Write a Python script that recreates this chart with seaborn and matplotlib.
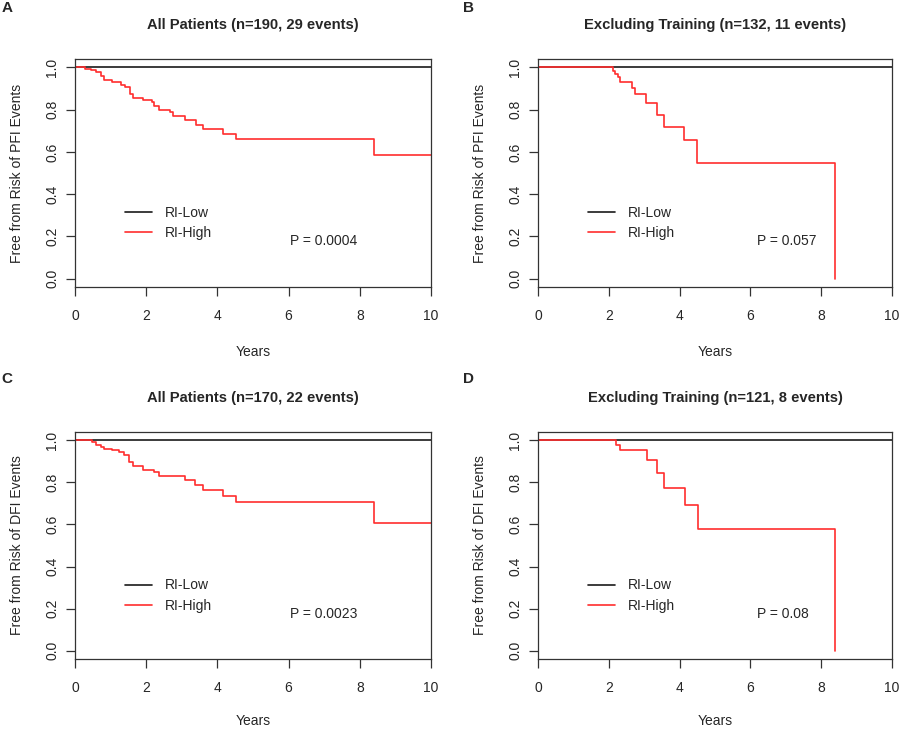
import numpy as np
import pandas as pd
import matplotlib
matplotlib.use("Agg")
import matplotlib.pyplot as plt
import seaborn as sns

# Kaplan-Meier step values (RI-High group)
a_times = [0, 0.28, 0.44, 0.58, 0.73, 0.82, 1.05, 1.29, 1.40, 1.54, 1.64, 1.90, 2.17, 2.23,
           2.37, 2.66, 2.75, 3.08, 3.39, 3.60, 4.16, 4.51, 8.40, 10]
a_surv = [1, 0.995, 0.99, 0.98, 0.96, 0.94, 0.93, 0.916, 0.908, 0.876, 0.856, 0.848, 0.837, 0.818,
          0.80, 0.79, 0.77, 0.75, 0.729, 0.71, 0.683, 0.662, 0.583, 0.583]

b_times = [0, 2.12, 2.17, 2.25, 2.33, 2.65, 2.74, 3.05, 3.35, 3.56, 4.13, 4.48, 8.40]
b_surv = [1, 0.985, 0.97, 0.955, 0.93, 0.905, 0.875, 0.83, 0.775, 0.72, 0.655, 0.547, 0.0]

c_times = [0, 0.49, 0.58, 0.73, 0.82, 1.05, 1.24, 1.38, 1.53, 1.64, 1.90, 2.23, 2.37, 3.08,
           3.36, 3.60, 4.16, 4.51, 8.40, 10]
c_surv = [1, 0.992, 0.98, 0.968, 0.957, 0.952, 0.944, 0.93, 0.897, 0.88, 0.86, 0.85, 0.833, 0.813,
          0.79, 0.762, 0.735, 0.706, 0.608, 0.608]

d_times = [0, 2.20, 2.33, 3.07, 3.37, 3.57, 4.15, 4.51, 8.40]
d_surv = [1, 0.98, 0.952, 0.905, 0.846, 0.775, 0.694, 0.579, 0.0]

# RI-Low group: no events, flat at 1 over follow-up
low_times = [0, 10]
low_surv = [1, 1]

titles = ["All Patients (n=190, 29 events)", "Excluding Training (n=132, 11 events)",
          "All Patients (n=170, 22 events)", "Excluding Training (n=121, 8 events)"]
ylabels = ["Free from Risk of PFI Events", "Free from Risk of PFI Events",
           "Free from Risk of DFI Events", "Free from Risk of DFI Events"]
pvals = ["P = 0.0004", "P = 0.057", "P = 0.0023", "P = 0.08"]
letters = ["A", "B", "C", "D"]
xticks = [0, 2, 4, 6, 8, 10]
yticks = [0.0, 0.2, 0.4, 0.6, 0.8, 1.0]

sns.set_style("ticks")
plt.rcParams['font.family'] = ['Liberation Sans', 'DejaVu Sans']

W, H = 900, 729
fig = plt.figure(figsize=(9, 7.29), dpi=100)

# axes boxes in pixels: left, top, right, bottom
boxes = [(75, 59, 431, 287), (538, 59, 892, 287),
         (75, 432, 431, 659), (538, 432, 892, 659)]
curves = [(a_times, a_surv), (b_times, b_surv), (c_times, c_surv), (d_times, d_surv)]

for i in range(4):
    l, t, r, b = boxes[i]
    ax = fig.add_axes([l / W, 1 - b / H, (r - l) / W, (b - t) / H])
    times, surv = curves[i]
    low = pd.DataFrame({'Years': low_times, 'S': low_surv})
    high = pd.DataFrame({'Years': times, 'S': surv})
    sns.lineplot(data=low, x='Years', y='S', ax=ax, color='#1a1a1a', lw=1.2,
                 drawstyle='steps-post', estimator=None, sort=False, label='RI-Low')
    sns.lineplot(data=high, x='Years', y='S', ax=ax, color='#ff2e2e', lw=1.2,
                 drawstyle='steps-post', estimator=None, sort=False, label='RI-High')
    ax.set_xlim(0, 10)
    ax.set_ylim(-0.04, 1.04)
    ax.set_xticks(xticks)
    ax.set_yticks(yticks)
    ax.set_xticklabels([str(v) for v in xticks])
    ax.set_yticklabels([f"{v:.1f}" for v in yticks], rotation=90, va='center')
    for s in ax.spines.values():
        s.set_visible(True)
        s.set_color('#333333')
        s.set_linewidth(0.9)
    ax.tick_params(direction='out', length=6.5, width=0.9, color='#333333', labelsize=10)
    ax.tick_params(axis='x', pad=9)
    ax.tick_params(axis='y', pad=5)
    ax.set_xlabel('Years', fontsize=10)
    ax.set_ylabel(ylabels[i], fontsize=10)
    ax.xaxis.set_label_coords(0.5, -0.255 if i < 2 else -0.243)
    ax.yaxis.set_label_coords(-58 / (r - l), 0.5)
    ax.yaxis.label.set_va('center')

    ax.legend(loc='upper left', bbox_to_anchor=(0.14, 0.355), frameon=False,
              fontsize=10, handlelength=1.95, handletextpad=0.95,
              labelspacing=0.45, borderpad=0, borderaxespad=0)
    ax.text(0.605 if i in (0, 2) else 0.62, 0.20, pvals[i], transform=ax.transAxes,
            fontsize=10, ha='left', va='center')
    ax.text(0.5, 1 + 34 / (b - t), titles[i], transform=ax.transAxes,
            fontsize=10.6, fontweight='bold', ha='center', va='center')
    fig.text((7 if i in (0, 2) else 468) / W, 1 - (8 if i < 2 else 379) / H, letters[i],
             fontsize=11, fontweight='bold', ha='center', va='center')

fig.savefig('out.png', dpi=100)
